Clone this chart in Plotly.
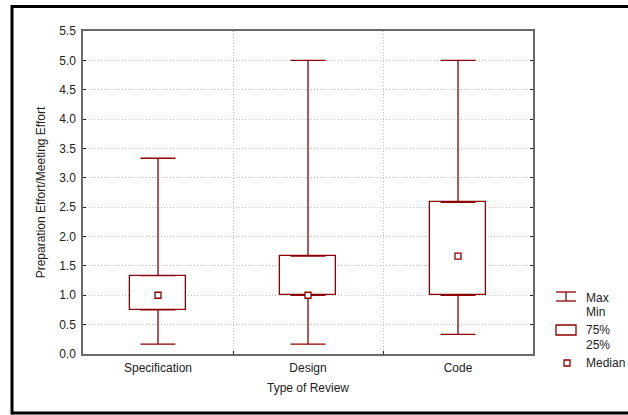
import plotly.graph_objects as go

categories = ["Specification", "Design", "Code"]
q_min = [0.167, 0.167, 0.333]
q1 = [0.75, 1.0, 1.0]
median = [1.0, 1.0, 1.667]
q3 = [1.333, 1.667, 2.583]
q_max = [3.333, 5.0, 5.0]
y_ticks = [0.0, 0.5, 1.0, 1.5, 2.0, 2.5, 3.0, 3.5, 4.0, 4.5, 5.0, 5.5]

RED = "#8B0000"
W, H = 628, 415
L, R, T, B = 83, 95, 31, 61
PW, PH = W - L - R, H - T - B

def px(x):
    return (x - L) / PW

def py(y):
    return (H - B - y) / PH

xs = list(range(len(categories)))
fig = go.Figure()

# box body (Q1..Q3)
fig.add_trace(go.Bar(
    x=xs, y=[b - a for a, b in zip(q1, q3)], base=q1, width=0.373,
    marker=dict(color="white", line=dict(color=RED, width=1.3)),
    showlegend=False, hoverinfo="skip"))

# upper whisker
fig.add_trace(go.Scatter(
    x=xs, y=q3, mode="markers", marker=dict(size=0.1, color=RED, opacity=0),
    error_y=dict(type="data", array=[m - q for m, q in zip(q_max, q3)],
                 arrayminus=[0] * 3, color=RED, thickness=1.3, width=17.5),
    showlegend=False, hoverinfo="skip"))
# lower whisker
fig.add_trace(go.Scatter(
    x=xs, y=q1, mode="markers", marker=dict(size=0.1, color=RED, opacity=0),
    error_y=dict(type="data", array=[0] * 3,
                 arrayminus=[q - m for m, q in zip(q_min, q1)],
                 color=RED, thickness=1.3, width=17.5),
    showlegend=False, hoverinfo="skip"))
# median
fig.add_trace(go.Scatter(
    x=xs, y=median, mode="markers",
    marker=dict(symbol="square", size=6, color="white", line=dict(color=RED, width=1.3)),
    showlegend=False, hoverinfo="skip"))

FONT = "Liberation Sans, Arial, sans-serif"
GRID = "#c4c4c4"

fig.update_layout(
    width=W, height=H, margin=dict(l=L, r=R, t=T, b=B),
    plot_bgcolor="white", paper_bgcolor="white",
    font=dict(family=FONT, size=12, color="#222"),
    bargap=0, showlegend=False,
    xaxis=dict(range=[-0.5, 2.5], tickmode="array", tickvals=xs, ticktext=categories,
               showgrid=False, zeroline=False, showline=True, mirror=True,
               linecolor="#6a6a6a", linewidth=1.5, ticks="", ticklabelstandoff=2,
               minor=dict(tickmode="array", tickvals=[0.5, 1.5], showgrid=True,
                          gridcolor=GRID, griddash="1px,2px", gridwidth=1,
                          ticks="inside", ticklen=3, tickcolor="#222"),
               title=dict(text="Type of Review", font=dict(size=12), standoff=9)),
    yaxis=dict(range=[0, 5.5], tickmode="array", tickvals=y_ticks,
               ticktext=[f"{v:.1f}" for v in y_ticks],
               showgrid=True, gridcolor=GRID, griddash="1px,2px", gridwidth=1,
               zeroline=False, showline=True, mirror="ticks",
               linecolor="#6a6a6a", linewidth=1.5, ticks="inside", ticklen=3,
               tickcolor="#222", ticklabelstandoff=3,
               title=dict(text="Preparation Effort/Meeting Effort", font=dict(size=12), standoff=11)),
)

# outer frame
for x0, y0, x1, y1 in [(12, 6.5, 628, 6.5), (12, 413, 628, 413), (12, 5, 12, 414.5)]:
    fig.add_shape(type="line", xref="paper", yref="paper",
                  x0=px(x0), x1=px(x1), y0=py(y0), y1=py(y1),
                  line=dict(color="black", width=3), layer="above")

# custom legend
fig.add_shape(type="line", xref="paper", yref="paper", x0=px(556), x1=px(576), y0=py(292), y1=py(292), line=dict(color=RED, width=1.3))
fig.add_shape(type="line", xref="paper", yref="paper", x0=px(556), x1=px(576), y0=py(301), y1=py(301), line=dict(color=RED, width=1.3))
fig.add_shape(type="line", xref="paper", yref="paper", x0=px(566), x1=px(566), y0=py(292), y1=py(301), line=dict(color=RED, width=1.3))
fig.add_shape(type="rect", xref="paper", yref="paper", x0=px(556), x1=px(576), y0=py(335), y1=py(325), line=dict(color=RED, width=1.3), fillcolor="white")
fig.add_shape(type="rect", xref="paper", yref="paper", x0=px(564), x1=px(570), y0=py(366), y1=py(360), line=dict(color=RED, width=1.3), fillcolor="white")

for txt, yy in [("Max", 298), ("Min", 312), ("75%", 330), ("25%", 345), ("Median", 363)]:
    fig.add_annotation(text=txt, xref="paper", yref="paper", x=px(584), y=py(yy),
                       xanchor="left", yanchor="middle", showarrow=False,
                       font=dict(size=12, color="#222"))

fig.write_html("out.html", config={"displayModeBar": False},
               post_script="document.body.style.margin='0';")
